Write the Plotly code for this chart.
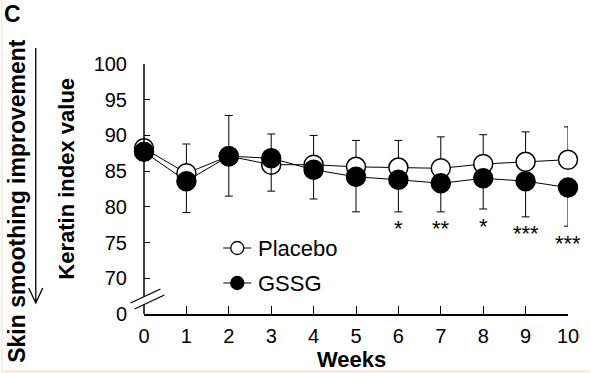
import plotly.graph_objects as go

# ---------------- data ----------------
weeks = [0, 1, 2, 3, 4, 5, 6, 7, 8, 9, 10]
placebo = [88.2, 84.7, 87.1, 85.9, 85.9, 85.6, 85.5, 85.4, 86.0, 86.3, 86.6]
placebo_sd = [0.0, 4.1, 5.7, 4.3, 4.1, 3.7, 3.8, 4.4, 4.1, 4.2, 4.6]
gssg = [87.7, 83.6, 87.1, 86.8, 85.2, 84.2, 83.8, 83.3, 84.0, 83.6, 82.7]
gssg_sd = [0.0, 4.4, 5.6, 4.6, 4.1, 4.9, 4.5, 4.0, 4.3, 5.0, 5.4]
sig_labels = ["", "", "", "", "", "", "*", "**", "*", "***", "***"]
series_names = ["Placebo", "GSSG"]
series_fill = ["white", "black"]
y_tickvals = [65, 70, 75, 80, 85, 90, 95, 100]
y_ticktext = ["0", "70", "75", "80", "85", "90", "95", "100"]
x_tickvals = weeks

# ---------------- layout geometry ----------------
W, H = 591, 373
L, R, T, B = 143.5, 568.5, 64, 314
FONT = "Liberation Sans, Arial, sans-serif"


def px(x):
    return (x - L) / (R - L)


def py(y):
    return (B - y) / (B - T)


fig = go.Figure()

fig.add_trace(go.Scatter(
    x=weeks, y=placebo, name=series_names[0], mode="lines+markers",
    showlegend=False,
    line=dict(color="black", width=1),
    marker=dict(symbol="circle", size=19, color=series_fill[0],
                line=dict(color="black", width=1.5)),
    error_y=dict(type="data", array=placebo_sd, arrayminus=[0] * len(weeks),
                 symmetric=False, color="black", thickness=1, width=4),
    cliponaxis=False,
))
fig.add_trace(go.Scatter(
    x=weeks, y=gssg, name=series_names[1], mode="lines+markers",
    showlegend=False,
    line=dict(color="black", width=1),
    marker=dict(symbol="circle", size=19, color=series_fill[1],
                line=dict(color="black", width=1.5)),
    error_y=dict(type="data", array=[0] * len(weeks), arrayminus=gssg_sd,
                 symmetric=False, color="black", thickness=1, width=4),
    cliponaxis=False,
))

# significance stars below GSSG error bars
for w, g, sd, s in zip(weeks, gssg, gssg_sd, sig_labels):
    if s:
        fig.add_annotation(x=w, y=g - sd, xref="x", yref="y", text=s,
                           showarrow=False, yanchor="middle", yshift=-17,
                           font=dict(family=FONT, size=22, color="black"))

ann_font_b = dict(family=FONT, color="black", weight="bold")

# axis titles / panel label
fig.add_annotation(x=px(351.5), y=py(359), xref="paper", yref="paper",
                   text="Weeks", showarrow=False, xanchor="center", yanchor="middle",
                   font=dict(size=22, **ann_font_b))
fig.add_annotation(x=px(65), y=py(179), xref="paper", yref="paper",
                   text="Keratin index value", textangle=-90, showarrow=False,
                   xanchor="center", yanchor="middle",
                   font=dict(size=22, **ann_font_b))
fig.add_annotation(x=px(16), y=py(201), xref="paper", yref="paper",
                   text="Skin smoothing improvement", textangle=-90, showarrow=False,
                   xanchor="center", yanchor="middle",
                   font=dict(size=23, **ann_font_b))
fig.add_annotation(x=px(11.5), y=py(13.5), xref="paper", yref="paper",
                   text="C", showarrow=False, xanchor="center", yanchor="middle",
                   font=dict(size=23, **ann_font_b))

shapes = []
# y axis line with break
ybreak_hi = 296.7
ybreak_lo = 304.6
shapes.append(dict(type="line", xref="paper", yref="paper", x0=0, x1=0,
                   y0=1, y1=py(ybreak_hi), line=dict(color="black", width=1.5)))
shapes.append(dict(type="line", xref="paper", yref="paper", x0=0, x1=0,
                   y0=py(ybreak_lo), y1=0, line=dict(color="black", width=1.5)))
# break slashes
shapes.append(dict(type="line", xref="paper", yref="paper", x0=px(130), y0=py(303),
                   x1=px(160), y1=py(289), line=dict(color="black", width=1.3)))
shapes.append(dict(type="line", xref="paper", yref="paper", x0=px(134), y0=py(309),
                   x1=px(164), y1=py(295), line=dict(color="black", width=1.3)))
# down arrow
shapes.append(dict(type="path", xref="paper", yref="paper",
                   path=(f"M {px(35)},{py(48)} L {px(35)},{py(303)} "
                         f"M {px(28)},{py(288)} L {px(35)},{py(303)} L {px(42)},{py(288)}"),
                   line=dict(color="black", width=1.3)))

# manual legend (line + marker + label)
legend_rows_y = [248, 283]
for name, fill, ry in zip(series_names, series_fill, legend_rows_y):
    shapes.append(dict(type="line", xref="paper", yref="paper",
                       x0=px(223), x1=px(251), y0=py(ry), y1=py(ry),
                       line=dict(color="black", width=1)))
    shapes.append(dict(type="circle", xref="paper", yref="paper",
                       xsizemode="pixel", ysizemode="pixel",
                       xanchor=px(237), yanchor=py(ry),
                       x0=-6.5, x1=6.5, y0=-6.5, y1=6.5,
                       fillcolor=fill, line=dict(color="black", width=1.3)))
    fig.add_annotation(x=px(256), y=py(ry), xref="paper", yref="paper",
                       text=name, showarrow=False, xanchor="left", yanchor="middle",
                       font=dict(family=FONT, size=22, color="black"))

# faint beige frame edges
shapes.append(dict(type="rect", xref="paper", yref="paper", x0=px(0), x1=px(2),
                   y0=py(0), y1=py(373), fillcolor="#f8ede1", line=dict(width=0)))
shapes.append(dict(type="rect", xref="paper", yref="paper", x0=px(0), x1=px(591),
                   y0=py(370), y1=py(373), fillcolor="#f8ede1", line=dict(width=0)))

fig.update_layout(
    width=W, height=H,
    margin=dict(l=L, r=W - R, t=T, b=H - B, pad=0),
    paper_bgcolor="white", plot_bgcolor="white",
    font=dict(family=FONT, size=20, color="black"),
    shapes=shapes,
    showlegend=False,
    xaxis=dict(range=[0, 10], tickvals=x_tickvals, ticks="inside", ticklen=8,
               tickwidth=1.3, tickcolor="black", showline=True, linecolor="black",
               linewidth=1.5, showgrid=False, zeroline=False, ticklabelstandoff=3,
               tickfont=dict(family=FONT, size=20, color="black")),
    yaxis=dict(range=[65, 100], tickvals=y_tickvals, ticktext=y_ticktext,
               ticks="inside", ticklen=6, tickwidth=1.3, tickcolor="black",
               showline=False, showgrid=False, zeroline=False, ticklabelstandoff=16,
               tickfont=dict(family=FONT, size=20, color="black")),
)

fig.write_html(
    "out.html",
    config={"displayModeBar": False},
    post_script="document.body.style.margin='0';document.body.style.padding='0';"
                "document.body.style.overflow='hidden';",
)
